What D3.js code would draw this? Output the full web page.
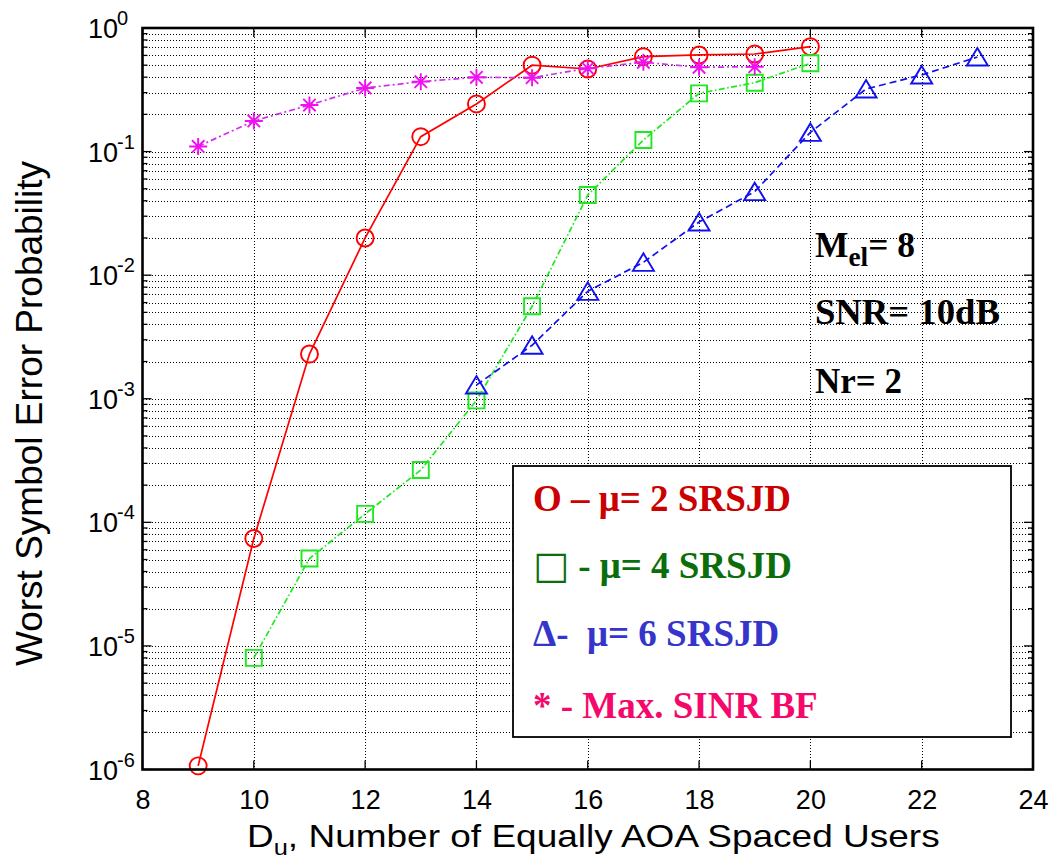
<!DOCTYPE html>
<html>
<head>
<meta charset="utf-8">
<script src="https://cdn.jsdelivr.net/npm/d3@7"></script>
<style>
  body { margin: 0; background: #fff; }
  svg text { white-space: pre; }
</style>
</head>
<body>
<svg id="chart" width="1055" height="867"></svg>
<script>
// ---- data -------------------------------------------------------------
const usersMu2 = [9, 10, 11, 12, 13, 14, 15, 16, 17, 18, 19, 20];
const serMu2   = [1.07e-6, 7.4e-5, 2.3e-3, 2.0e-2, 0.132, 0.243, 0.50, 0.466, 0.586, 0.605, 0.616, 0.706];

const usersMu4 = [10, 11, 12, 13, 14, 15, 16, 17, 18, 19, 20];
const serMu4   = [8.0e-6, 5.1e-5, 1.17e-4, 2.65e-4, 9.7e-4, 5.6e-3, 4.45e-2, 0.124, 0.296, 0.361, 0.518];

const usersMu6 = [14, 15, 16, 17, 18, 19, 20, 21, 22, 23];
const serMu6   = [1.29e-3, 2.71e-3, 7.4e-3, 1.27e-2, 2.69e-2, 4.74e-2, 0.143, 0.321, 0.417, 0.582];

const usersBF  = [9, 10, 11, 12, 13, 14, 15, 16, 17, 18, 19];
const serBF    = [0.110, 0.177, 0.238, 0.327, 0.368, 0.399, 0.396, 0.472, 0.528, 0.481, 0.486];

const xTickValues    = [8, 10, 12, 14, 16, 18, 20, 22, 24];
const yTickExponents = [0, -1, -2, -3, -4, -5, -6];

const legendSymbols = ["O", "\u25a1", "\u0394", "*"];
const legendLabels  = [" \u2013 \u03bc= 2 SRSJD", " - \u03bc= 4 SRSJD", "-  \u03bc= 6 SRSJD", " - Max. SINR BF"];
const legendColors  = ["#cc0000", "#0b6e0b", "#3535cc", "#f5086a"];

// ---- layout -----------------------------------------------------------
const svg = d3.select("#chart");
const plot = { left: 142.5, right: 1033, top: 28, bottom: 769.5 };

const x = d3.scaleLinear().domain([8, 24]).range([plot.left, plot.right]);
const y = d3.scaleLog().domain([1e-6, 1]).range([plot.bottom, plot.top]);

const sansFont = "'Liberation Sans', Arial, Helvetica, sans-serif";
const serifFont = "'Liberation Serif', 'Times New Roman', serif";

// major and minor positions of the log axis
const yMajors = yTickExponents.map(e => Math.pow(10, e));
const yMinors = [];
yTickExponents.slice(1).forEach(e => {
  for (let k = 2; k <= 9; k++) yMinors.push(k * Math.pow(10, e));
});
const px = v => Math.round(v) + 0.5;

// ---- grid -------------------------------------------------------------
const grid = svg.append("g").attr("stroke", "#000").attr("stroke-width", 1)
  .attr("stroke-dasharray", "1,2").attr("shape-rendering", "crispEdges");

grid.selectAll("line.gx")
  .data(xTickValues.filter(v => v > 8 && v < 24))
  .join("line")
  .attr("x1", d => px(x(d))).attr("x2", d => px(x(d)))
  .attr("y1", plot.top).attr("y2", plot.bottom);

grid.selectAll("line.gy")
  .data(yMajors.concat(yMinors).filter(v => v > 1e-6 && v < 1))
  .join("line")
  .attr("x1", plot.left).attr("x2", plot.right)
  .attr("y1", d => px(y(d))).attr("y2", d => px(y(d)));

// ---- tick marks (inside, on all four sides) ---------------------------
const ticks = svg.append("g").attr("stroke", "#000").attr("stroke-width", 1.3);
xTickValues.forEach(v => {
  ticks.append("line").attr("x1", x(v)).attr("x2", x(v)).attr("y1", plot.bottom).attr("y2", plot.bottom - 9);
  ticks.append("line").attr("x1", x(v)).attr("x2", x(v)).attr("y1", plot.top).attr("y2", plot.top + 9);
});
yMajors.forEach(v => {
  ticks.append("line").attr("x1", plot.left).attr("x2", plot.left + 9).attr("y1", y(v)).attr("y2", y(v));
  ticks.append("line").attr("x1", plot.right).attr("x2", plot.right - 9).attr("y1", y(v)).attr("y2", y(v));
});
yMinors.forEach(v => {
  ticks.append("line").attr("x1", plot.left).attr("x2", plot.left + 5).attr("y1", y(v)).attr("y2", y(v));
  ticks.append("line").attr("x1", plot.right).attr("x2", plot.right - 5).attr("y1", y(v)).attr("y2", y(v));
});

// ---- annotations inside the axes -------------------------------------
const notes = svg.append("g").attr("font-family", serifFont).attr("font-weight", "bold")
  .attr("font-size", 35).attr("fill", "#000");

const mel = notes.append("text").attr("x", 815).attr("y", 257);
mel.append("tspan").text("M");
mel.append("tspan").attr("font-size", 27).attr("dy", 9).text("el");
mel.append("tspan").attr("dy", -9).text("= 8");

notes.append("text").attr("x", 815).attr("y", 324).text("SNR= 10dB");
notes.append("text").attr("x", 815).attr("y", 393).text("Nr= 2");

function stretchTo(sel, targetWidth) {
  const w = sel.node().getBBox().width;
  const s = targetWidth / w;
  const x0 = +sel.attr("x");
  sel.attr("transform", `translate(${x0 * (1 - s)},0) scale(${s},1)`);
}
notes.selectAll("text").each(function (d, i) {
  stretchTo(d3.select(this), [100, 185, 87][i]);
});

// ---- series -----------------------------------------------------------
const line = d3.line().x(d => x(d[0])).y(d => y(d[1]));

function drawSeries(xs, ys, color, dash, marker, lineColor) {
  const pts = xs.map((v, i) => [v, ys[i]]);
  svg.append("path").datum(pts)
    .attr("fill", "none")
    .attr("stroke", lineColor || color)
    .attr("stroke-width", 1.7)
    .attr("stroke-dasharray", dash)
    .attr("d", line);
  const g = svg.append("g").attr("fill", "none").attr("stroke", color).attr("stroke-width", 1.9);
  g.selectAll("path").data(pts).join("path")
    .attr("transform", d => `translate(${x(d[0])},${y(d[1])})`)
    .attr("d", marker);
}

const circleMarker = "M8.5,0A8.5,8.5 0 1,1 -8.5,0A8.5,8.5 0 1,1 8.5,0Z";
const squareMarker = "M-8,-8H8V8H-8Z";
const triangleMarker = "M0,-9L10.5,8.5H-10.5Z";
const starMarker = "M-9,0H9M0,-8.5V8.5M-6.2,-6.2L6.2,6.2M-6.2,6.2L6.2,-6.2";

drawSeries(usersMu2, serMu2, "#ff0000", null, circleMarker);
drawSeries(usersMu4, serMu4, "#1fe81f", "6,2.5,1.5,2.5", squareMarker);
drawSeries(usersMu6, serMu6, "#1010f0", "7,4", triangleMarker);
drawSeries(usersBF, serBF, "#f010f0", "6,3,2,3", starMarker, "#d030f0");

// ---- axes box ---------------------------------------------------------
svg.append("rect")
  .attr("x", plot.left).attr("y", plot.top)
  .attr("width", plot.right - plot.left).attr("height", plot.bottom - plot.top)
  .attr("fill", "none").attr("stroke", "#000").attr("stroke-width", 2.6);

// ---- tick labels ------------------------------------------------------
const xAxis = d3.axisBottom(x).tickValues(xTickValues).tickSize(0).tickPadding(0)
  .tickFormat(d3.format("d"));
const gx = svg.append("g").attr("transform", `translate(0,${plot.bottom})`).call(xAxis);
gx.select(".domain").remove();
gx.selectAll("text")
  .attr("font-family", sansFont).attr("font-size", 27).attr("fill", "#000")
  .attr("dy", null).attr("y", 39);

const yLabels = svg.append("g").attr("font-family", sansFont).attr("fill", "#000");
yTickExponents.forEach(e => {
  const ty = y(Math.pow(10, e));
  const t = yLabels.append("text").attr("x", 88).attr("y", ty + 10).attr("font-size", 27);
  t.append("tspan").text("10");
  t.append("tspan").attr("font-size", 20).attr("dy", -13).attr("dx", -1)
    .text(e === 0 ? "0" : "-" + Math.abs(e));
});

// ---- axis titles ------------------------------------------------------
const xt = svg.append("text")
  .attr("font-family", sansFont).attr("font-size", 32).attr("fill", "#000")
  .attr("text-anchor", "start").attr("x", 247).attr("y", 847);
xt.append("tspan").text("D");
xt.append("tspan").attr("font-size", 22).attr("dy", 8).text("u");
xt.append("tspan").attr("dy", -8).text(", Number of Equally AOA Spaced Users");
stretchTo(xt, 693);

svg.append("text")
  .attr("font-family", sansFont).attr("font-size", 37).attr("fill", "#000")
  .attr("text-anchor", "middle")
  .attr("transform", "translate(42,413.5) rotate(-90)")
  .text("Worst Symbol Error Probability");

// ---- legend -----------------------------------------------------------
const legend = svg.append("g");
legend.append("rect")
  .attr("x", 513).attr("y", 466).attr("width", 498).attr("height", 271)
  .attr("fill", "#fff").attr("stroke", "#000").attr("stroke-width", 1.8);

const legendBaselines = [511, 578, 646, 718];
legend.selectAll("text").data(legendLabels).join("text")
  .attr("x", 533).attr("y", (d, i) => legendBaselines[i])
  .attr("font-family", serifFont).attr("font-weight", "bold").attr("font-size", 37)
  .attr("fill", (d, i) => legendColors[i])
  .each(function (d, i) {
    const t = d3.select(this);
    const sym = t.append("tspan").text(legendSymbols[i]);
    if (legendSymbols[i] === "\u25a1") {
      sym.attr("font-family", "'DejaVu Sans', sans-serif").attr("font-weight", "normal")
        .attr("font-size", 38);
    }
    t.append("tspan").text(d);
  });
</script>
</body>
</html>
